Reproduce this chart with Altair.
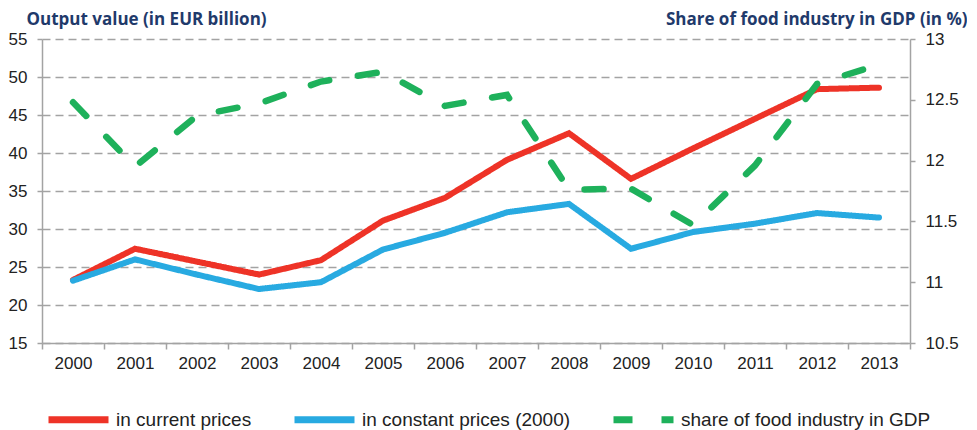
import altair as alt
import pandas as pd

years = [str(y) for y in range(2000, 2014)]
current_prices = [23.3, 27.4, 25.7, 24.0, 25.9, 31.1, 34.1, 39.1, 42.6, 36.6, 40.6, 44.5, 48.4, 48.6]
constant_prices = [23.2, 26.0, 24.0, 22.1, 23.0, 27.3, 29.5, 32.2, 33.3, 27.4, 29.6, 30.7, 32.1, 31.5]
gdp_share = [12.48, 11.95, 12.37, 12.47, 12.65, 12.73, 12.45, 12.54, 11.76, 11.77, 11.47, 11.96, 12.63, 12.79]

series_names = ["in current prices", "in constant prices (2000)", "share of food industry in GDP"]
series_colors = ["#EE3327", "#28AAE1", "#1EB15B"]
series_dashes = [[1, 0], [1, 0], [19, 29]]
left_ticks = [15, 20, 25, 30, 35, 40, 45, 50, 55]
right_ticks = [10.5, 11, 11.5, 12, 12.5, 13]

df_left = pd.DataFrame({
    "year": years * 2,
    "value": current_prices + constant_prices,
    "series": [series_names[0]] * len(years) + [series_names[1]] * len(years),
})
df_right = pd.DataFrame({
    "year": years,
    "value": gdp_share,
    "series": [series_names[2]] * len(years),
})

AXIS_GREY = "#A3A3A3"
TITLE_COLOR = "#1F3A6B"
LABEL_FONT = "Liberation Sans"

legend = alt.Legend(
    title=None, orient="none", legendX=3, legendY=347, direction="horizontal",
    symbolType="stroke", symbolSize=3600, symbolStrokeWidth=7,
    labelFont=LABEL_FONT, labelFontSize=19, labelColor="#222222",
    columnPadding=28, labelOffset=4, labelLimit=400,
)
color = alt.Color("series:N", scale=alt.Scale(domain=series_names, range=series_colors), legend=legend)
dash = alt.StrokeDash("series:N", scale=alt.Scale(domain=series_names, range=series_dashes), legend=legend)

x = alt.X(
    "year:O",
    scale=alt.Scale(type="band", paddingInner=0, paddingOuter=0),
    axis=alt.Axis(title=None, tickBand="extent", labelAngle=0, labelPadding=6, tickSize=6,
                  domainColor=AXIS_GREY, tickColor=AXIS_GREY, domainWidth=1.5, tickWidth=1.5),
)

left = alt.Chart(df_left).mark_line(strokeWidth=6, strokeCap="round").encode(
    x=x,
    y=alt.Y(
        "value:Q",
        scale=alt.Scale(domain=[15, 55], nice=False, zero=False),
        axis=alt.Axis(
            values=left_ticks, title="Output value (in EUR billion)",
            titleAngle=0, titleAlign="left", titleBaseline="alphabetic",
            titleX=-16, titleY=-15, titleFont="Open Sans", titleFontWeight="bold",
            titleFontSize=17, titleColor=TITLE_COLOR,
            grid=True, gridDash=[8, 5], gridColor=AXIS_GREY, gridWidth=1.5,
            tickSize=5, labelPadding=10, domainColor=AXIS_GREY, tickColor=AXIS_GREY,
            domainWidth=1.5, tickWidth=1.5,
        ),
    ),
    color=color,
    strokeDash=dash,
)

right = alt.Chart(df_right).mark_line(strokeWidth=6.5, strokeCap="round").encode(
    x=x,
    y=alt.Y(
        "value:Q",
        scale=alt.Scale(domain=[10.5, 13], nice=False, zero=False),
        axis=alt.Axis(
            orient="right", values=right_ticks, format="~g",
            title="Share of food industry in GDP (in %)",
            titleAngle=0, titleAlign="right", titleBaseline="alphabetic",
            titleX=57, titleY=-15, titleFont="Open Sans", titleFontWeight="bold",
            titleFontSize=17, titleColor=TITLE_COLOR,
            grid=False, tickSize=5, labelPadding=10, domainColor=AXIS_GREY, tickColor=AXIS_GREY,
            domainWidth=1.5, tickWidth=1.5,
        ),
    ),
    color=color,
    strokeDash=dash,
)

chart = alt.layer(left, right).resolve_scale(y="independent").properties(
    width=868, height=304, background="white", padding={"top": 2, "left": 0, "right": 0, "bottom": 0},
).configure_view(stroke=None).configure_axis(
    labelFont=LABEL_FONT, labelFontSize=17, labelColor="#222222"
)

chart.save("out.html", embed_options={"renderer": "svg", "actions": False})
